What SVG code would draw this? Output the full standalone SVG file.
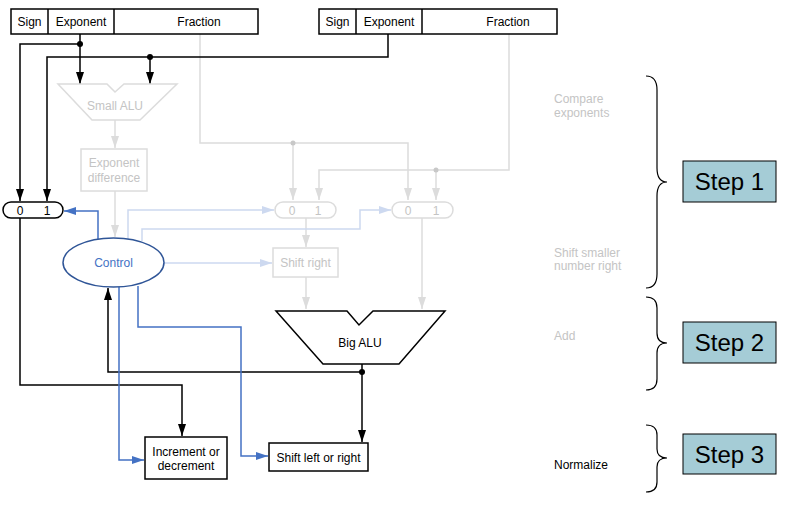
<svg xmlns="http://www.w3.org/2000/svg" width="787" height="511" viewBox="0 0 787 511">
  <style>
    text { font-family: "Liberation Sans", Arial, sans-serif; font-size: 12px; text-anchor: middle; }
    .blk { fill: none; stroke: #000; stroke-width: 1.5; }
    .box { fill: #fff; stroke: #000; stroke-width: 1.5; }
    .faint { fill: none; stroke: #dcdcdc; stroke-width: 1.5; }
    .faintbox { fill: #fff; stroke: #dcdcdc; stroke-width: 1.5; }
    .ftxt { fill: #c4c4c4; }
    .blue { fill: none; stroke: #4472c4; stroke-width: 1.5; }
    .lblue { fill: none; stroke: #cdd9f0; stroke-width: 1.5; }
    .side { text-anchor: start; font-size: 12px; }
    .step { fill: #a5ccd6; stroke: #000; stroke-width: 1; }
    .steptxt { font-size: 24px; }
    .brace { fill: none; stroke: #000; stroke-width: 1.2; }
  </style>
  <defs>
    <marker id="ah" viewBox="0 0 12 8" refX="12" refY="4" markerWidth="12" markerHeight="8" markerUnits="userSpaceOnUse" orient="auto">
      <path d="M0,0 L12,4 L0,8 z" fill="#000"/>
    </marker>
    <marker id="ahBlue" viewBox="0 0 12 8" refX="12" refY="4" markerWidth="12" markerHeight="8" markerUnits="userSpaceOnUse" orient="auto">
      <path d="M0,0 L12,4 L0,8 z" fill="#4472c4"/>
    </marker>
    <marker id="ahLBlue" viewBox="0 0 12 8" refX="12" refY="4" markerWidth="12" markerHeight="8" markerUnits="userSpaceOnUse" orient="auto">
      <path d="M0,0 L12,4 L0,8 z" fill="#cdd9f0"/>
    </marker>
    <marker id="ahGray" viewBox="0 0 12 8" refX="12" refY="4" markerWidth="12" markerHeight="8" markerUnits="userSpaceOnUse" orient="auto">
      <path d="M0,0 L12,4 L0,8 z" fill="#dcdcdc"/>
    </marker>
  </defs>

  <!-- connectors -->
  <g id="connectors">
    <!-- faint datapath: fractions into the muxes -->
    <polyline class="faint" points="200,34 200,143 408,143 408,200" marker-end="url(#ahGray)"/>
    <line class="faint" x1="293" y1="143" x2="293" y2="200" marker-end="url(#ahGray)"/>
    <polyline class="faint" points="509,34 509,170 319,170 319,200" marker-end="url(#ahGray)"/>
    <line class="faint" x1="436" y1="170" x2="436" y2="200" marker-end="url(#ahGray)"/>
    <circle cx="293" cy="143" r="2.5" fill="#c8c8c8"/>
    <circle cx="436" cy="170" r="2.5" fill="#c8c8c8"/>
    <line class="faint" x1="306" y1="218" x2="306" y2="247" marker-end="url(#ahGray)"/>
    <line class="faint" x1="306" y1="277" x2="306" y2="309" marker-end="url(#ahGray)"/>
    <line class="faint" x1="422" y1="218" x2="422" y2="309" marker-end="url(#ahGray)"/>
    <line class="faint" x1="115" y1="120" x2="115" y2="148" marker-end="url(#ahGray)"/>
    <line class="faint" x1="115" y1="191" x2="115" y2="237" marker-end="url(#ahGray)"/>

    <!-- faint control lines -->
    <polyline class="lblue" points="128,239 128,210 274,210" marker-end="url(#ahLBlue)"/>
    <polyline class="lblue" points="142,241 142,229 360,229 360,210 391,210" marker-end="url(#ahLBlue)"/>
    <line class="lblue" x1="164" y1="263" x2="272" y2="263" marker-end="url(#ahLBlue)"/>

    <!-- exponents -->
    <polyline class="blk" points="80,34 80,44 20,44 20,201" marker-end="url(#ah)"/>
    <line class="blk" x1="80" y1="44" x2="80" y2="84" marker-end="url(#ah)"/>
    <polyline class="blk" points="388,34 388,57 47,57 47,201" marker-end="url(#ah)"/>
    <line class="blk" x1="150" y1="57" x2="150" y2="84" marker-end="url(#ah)"/>
    <circle cx="80" cy="44" r="3" fill="#000"/>
    <circle cx="150" cy="57" r="3" fill="#000"/>

    <!-- exponent mux to increment -->
    <polyline class="blk" points="20,218 20,385 182,385 182,436" marker-end="url(#ah)"/>

    <!-- Big ALU result -->
    <line class="blk" x1="362" y1="364" x2="362" y2="442" marker-end="url(#ah)"/>
    <polyline class="blk" points="362,372 108,372 108,288" marker-end="url(#ah)"/>
    <circle cx="362" cy="372" r="3" fill="#000"/>

    <!-- control lines -->
    <polyline class="blue" points="98,239 98,211 64,211" marker-end="url(#ahBlue)"/>
    <polyline class="blue" points="119,287 119,460 144,460" marker-end="url(#ahBlue)"/>
    <polyline class="blue" points="138,286 138,327 241,327 241,456 268,456" marker-end="url(#ahBlue)"/>
  </g>

  <!-- registers -->
  <g id="reg-left">
    <rect class="box" x="11" y="9" width="247" height="25"/>
    <line class="blk" x1="48" y1="9" x2="48" y2="34"/>
    <line class="blk" x1="114" y1="9" x2="114" y2="34"/>
    <text x="29.5" y="26">Sign</text>
    <text x="81" y="26">Exponent</text>
    <text x="199" y="26">Fraction</text>
  </g>
  <g id="reg-right">
    <rect class="box" x="319" y="9" width="238" height="25"/>
    <line class="blk" x1="356" y1="9" x2="356" y2="34"/>
    <line class="blk" x1="422" y1="9" x2="422" y2="34"/>
    <text x="337.5" y="26">Sign</text>
    <text x="389" y="26">Exponent</text>
    <text x="508" y="26">Fraction</text>
  </g>

  <!-- small ALU -->
  <g id="small-alu">
    <path class="faintbox" d="M58,84 L107,84 L115,92 L124,84 L177,84 L140,120 L92,120 Z"/>
    <text class="ftxt" x="115" y="110">Small ALU</text>
  </g>
  <g id="exp-diff">
    <rect class="faintbox" x="81" y="149" width="66" height="42"/>
    <text class="ftxt" x="114" y="167">Exponent</text>
    <text class="ftxt" x="114" y="182">difference</text>
  </g>

  <!-- muxes -->
  <g id="mux-exp">
    <rect class="box" x="3" y="202" width="60" height="16" rx="8"/>
    <text x="20" y="215">0</text>
    <text x="47" y="215">1</text>
  </g>
  <g id="mux-a">
    <rect class="faintbox" x="275" y="202" width="61" height="16" rx="8"/>
    <text class="ftxt" x="292" y="215">0</text>
    <text class="ftxt" x="318" y="215">1</text>
  </g>
  <g id="mux-b">
    <rect class="faintbox" x="392" y="202" width="61" height="16" rx="8"/>
    <text class="ftxt" x="408" y="215">0</text>
    <text class="ftxt" x="436" y="215">1</text>
  </g>

  <!-- control -->
  <g id="control">
    <ellipse cx="113.5" cy="262.5" rx="50.5" ry="24.5" fill="#fff" stroke="#2f5597" stroke-width="1.5"/>
    <text x="113.5" y="267" fill="#4472c4">Control</text>
  </g>

  <g id="shift-right">
    <rect class="faintbox" x="273" y="248" width="65" height="29"/>
    <text class="ftxt" x="305.5" y="267">Shift right</text>
  </g>

  <g id="big-alu">
    <path class="box" d="M276,311 L347,311 L359,325 L373,311 L445,311 L399,364 L323,364 Z"/>
    <text x="360" y="347">Big ALU</text>
  </g>

  <g id="inc-dec">
    <rect class="box" x="145" y="437" width="82" height="42"/>
    <text x="186" y="456">Increment or</text>
    <text x="186" y="470">decrement</text>
  </g>
  <g id="shift-lr">
    <rect class="box" x="269" y="443" width="99" height="28"/>
    <text x="318.5" y="462">Shift left or right</text>
  </g>

  <!-- step annotations -->
  <g id="labels">
    <text class="side ftxt" x="554" y="103">Compare</text>
    <text class="side ftxt" x="554" y="117">exponents</text>
    <text class="side ftxt" x="554" y="257">Shift smaller</text>
    <text class="side ftxt" x="554" y="270">number right</text>
    <text class="side ftxt" x="554" y="340">Add</text>
    <text class="side" x="554" y="469">Normalize</text>
  </g>
  <g id="braces">
    <path class="brace" d="M646,76 Q657,76 657,90 L657,168 Q657,182 667,182 Q657,182 657,196 L657,274 Q657,288 646,288"/>
    <path class="brace" d="M646,297 Q657,297 657,308 L657,333 Q657,343 667,343 Q657,343 657,353 L657,379 Q657,390 646,390"/>
    <path class="brace" d="M646,425 Q657,425 657,435 L657,449 Q657,458 667,458 Q657,458 657,467 L657,482 Q657,492 646,492"/>
  </g>
  <g id="step1">
    <rect class="step" x="683" y="161" width="93" height="41"/>
    <text class="steptxt" x="729.5" y="190">Step 1</text>
  </g>
  <g id="step2">
    <rect class="step" x="683" y="322" width="93" height="41"/>
    <text class="steptxt" x="729.5" y="351">Step 2</text>
  </g>
  <g id="step3">
    <rect class="step" x="683" y="434" width="93" height="40"/>
    <text class="steptxt" x="729.5" y="463">Step 3</text>
  </g>
</svg>
